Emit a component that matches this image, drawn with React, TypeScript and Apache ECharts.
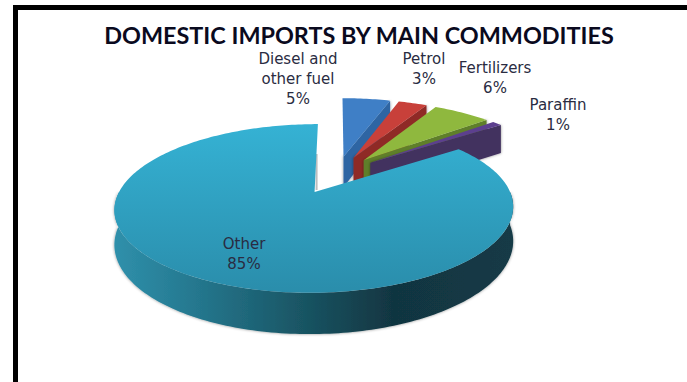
import React, { useEffect, useRef } from "react";
import * as echarts from "echarts";

// Shares of domestic imports, in percent.
const commodities = ["Diesel and\nother fuel", "Petrol", "Fertilizers", "Paraffin", "Other"];
const shares = [5, 3, 6, 1, 85];

// Flat fill for the wedge tops and darker fill for their cut faces.
const topColors = ["#3f7fc6", "#c8403a", "#8fb83e", "#5c3f8e", ""];
const faceColors = ["#2d65a3", "#8f2c28", "#5f7f2a", "#42305f", ""];

const W = 687;
const H = 382;

// Ground-plane projection of the exploded pie.
const ORIGIN_X = 335;
const ORIGIN_Y = 176;
const SCALE_X = 188;
const SCALE_Y = 75;
const PERSPECTIVE = 0.1876;
const EXPLODE = 0.23;
const THICKNESS = 32;

// The small wedges sit slightly further up and to the right than the large one.
const SMALL_SHIFT_X = 2;
const SMALL_SHIFT_Y = -3;

// Where each label block is centred.
const labelCentres: [number, number][] = [
  [298, 79],
  [424, 69],
  [495, 78],
  [558, 115],
  [244, 254],
];

type P = [number, number];

function project(u: number, v: number, lift = 0, dx = 0, dy = 0): P {
  const w = 1 - PERSPECTIVE * v;
  return [ORIGIN_X + dx + (SCALE_X * u) / w, ORIGIN_Y + dy + (SCALE_Y * v) / w + lift / w];
}

function sliceGeometry(start: number, end: number, dx: number, dy: number) {
  const mid = (start + end) / 2;
  const cu = EXPLODE * Math.sin(mid);
  const cv = -EXPLODE * Math.cos(mid);
  const at = (a: number): [number, number] => [cu + Math.sin(a), cv - Math.cos(a)];
  const arc = (from: number, to: number, lift = 0): P[] => {
    const n = Math.max(2, Math.ceil(Math.abs(to - from) / 0.02));
    const pts: P[] = [];
    for (let i = 0; i <= n; i++) {
      const [u, v] = at(from + ((to - from) * i) / n);
      pts.push(project(u, v, lift, dx, dy));
    }
    return pts;
  };
  return { cu, cv, at, arc };
}

const total = shares.reduce((a, b) => a + b, 0);
const startShares = shares.map((_, i) => shares.slice(0, i).reduce((a, b) => a + b, 0));

function renderSlice(params: any, api: any) {
  const i = params.dataIndex;
  const isLarge = i === shares.length - 1;
  const dx = isLarge ? 0 : SMALL_SHIFT_X;
  const dy = isLarge ? 0 : SMALL_SHIFT_Y;
  const start = (api.value(1) / total) * Math.PI * 2;
  const end = start + (api.value(0) / total) * Math.PI * 2;
  const { cu, cv, at, arc } = sliceGeometry(start, end, dx, dy);
  const shadow = { shadowBlur: 3, shadowColor: "rgba(0,0,0,0.45)" };
  const children: any[] = [];

  if (isLarge) {
    // Large wedge: the front wall from its left to its right extreme, then the top.
    const wallTop = arc(Math.PI / 2, (Math.PI * 3) / 2).reverse();
    const wallBottom = arc(Math.PI / 2, (Math.PI * 3) / 2, THICKNESS);
    const tip = project(cu, cv, 0, dx, dy);
    children.push({
      type: "polygon",
      shape: { points: [...wallTop, ...wallBottom] },
      style: {
        fill: new echarts.graphic.LinearGradient(0, 0, 1, 0, [
          { offset: 0, color: "#2f90ab" },
          { offset: 0.2, color: "#25788f" },
          { offset: 0.5, color: "#18515f" },
          { offset: 0.7, color: "#113541" },
          { offset: 1, color: "#133a46" },
        ]),
        ...shadow,
      },
    });
    // Soft shading along the lower part of the straight cut edge.
    children.push({
      type: "line",
      shape: { x1: tip[0] + 2, y1: tip[1] - 2, x2: tip[0] + 2, y2: tip[1] - 38 },
      style: { stroke: "rgba(110,110,110,0.45)", lineWidth: 2 },
    });
    children.push({
      type: "polygon",
      shape: { points: [tip, ...arc(start, end)] },
      style: {
        fill: new echarts.graphic.LinearGradient(0, 0, 0, 1, [
          { offset: 0, color: "#35b2d4" },
          { offset: 1, color: "#2a8dab" },
        ]),
      },
    });
  } else {
    // Small wedge: the cut face on its clockwise side, then the top.
    const [eu, ev] = at(end);
    const tip = project(cu, cv, 0, dx, dy);
    const rim = project(eu, ev, 0, dx, dy);
    children.push({
      type: "polygon",
      shape: {
        points: [
          tip,
          rim,
          project(eu, ev, THICKNESS, dx, dy),
          project(cu, cv, THICKNESS, dx, dy),
        ],
      },
      style: { fill: faceColors[i], ...shadow },
    });
    children.push({
      type: "polygon",
      shape: { points: [tip, ...arc(start, end)] },
      style: { fill: topColors[i] },
    });
  }

  // Label block: category name above its percentage.
  const [lx, ly] = labelCentres[i];
  children.push({
    type: "text",
    x: lx,
    y: ly,
    z2: 10,
    style: {
      text: `${commodities[i]}\n${api.value(0)}%`,
      fill: "#2a2c42",
      font: '15px "DejaVu Sans"',
      lineHeight: 20,
      align: "center",
      verticalAlign: "middle",
    },
  });
  return { type: "group", children };
}

export default function App() {
  const ref = useRef<HTMLDivElement>(null);

  useEffect(() => {
    const chart = echarts.init(ref.current!, null, { renderer: "svg" });
    chart.setOption({
      animation: false,
      backgroundColor: "#ffffff",
      title: {
        text: "DOMESTIC IMPORTS BY MAIN COMMODITIES",
        left: 354,
        top: 18,
        textAlign: "center",
        textStyle: {
          fontFamily: "Lato",
          fontSize: 23.4,
          fontWeight: "bold",
          color: "#0a0a1e",
        },
      },
      graphic: [
        {
          type: "polyline",
          shape: { points: [[15.5, H + 10], [15.5, 7.5], [W + 10, 7.5]] },
          style: { stroke: "#000000", lineWidth: 5, fill: "none" },
        },
      ],
      series: [
        {
          type: "custom",
          coordinateSystem: "none",
          renderItem: renderSlice,
          data: shares.map((s, i) => [s, startShares[i]]),
        },
      ],
    });
    return () => chart.dispose();
  }, []);

  return (
    <div
      ref={ref}
      style={{ position: "fixed", left: 0, top: 0, width: W, height: H }}
    />
  );
}
